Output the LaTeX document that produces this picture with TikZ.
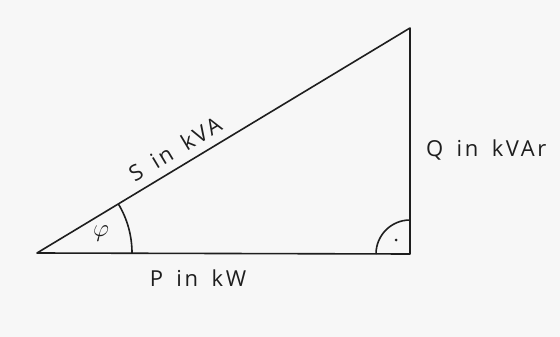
\documentclass[tikz,border=0pt]{standalone}
\usepackage{fontspec}
\setmainfont{Open Sans}[LetterSpace=12, WordSpace=1.6]
\usetikzlibrary{positioning, calc}
\definecolor{paper}{RGB}{247, 247, 247}
\definecolor{pencil}{RGB}{30, 30, 30}

\begin{document}
\begin{tikzpicture}[
            x=1pt, y=-1pt,
            side/.style={draw=pencil, line width=1.6pt, line join=round},
            tag/.style={text=pencil, inner sep=0pt, font=\fontsize{22}{24}\selectfont}
        ]
            \fill[paper] (0,0) rectangle (560,337);
            \useasboundingbox (0,0) rectangle (560,337);

            \coordinate (left) at (37,253);
            \coordinate (corner) at (410,254);
            \coordinate (top) at (410,28);

            \draw[side] (left) -- (corner) -- (top) -- cycle;

            % angle phi
            \draw[side] ($(left)+(95,0)$) arc[start angle=0, end angle=-31, radius=95];
            \node[tag, font=\fontsize{24}{26}\selectfont] (phi) at (101,234) {$\varphi$};

            % right angle
            \draw[side] ($(corner)+(-34,0)$) arc[start angle=180, end angle=270, radius=34];
            \fill[pencil] (396,240) circle (1.5pt);

            \node[tag, rotate=31] (s) at (175,149) {S in kVA};
            \node[tag, anchor=west] (q) at (426,150) {Q in kVAr};
            \node[tag] (p) at (198,278) {P in kW};
        \end{tikzpicture}
\end{document}
